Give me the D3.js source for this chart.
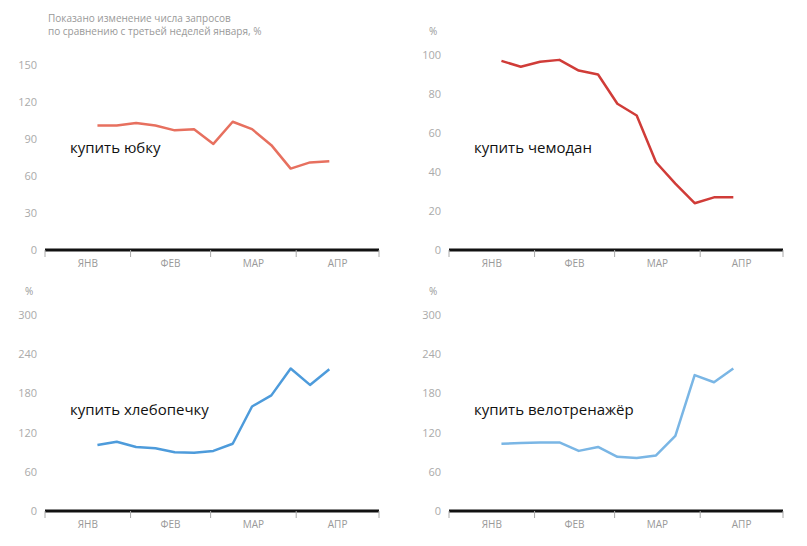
<!DOCTYPE html><html><head><meta charset="utf-8"><script src="https://cdn.jsdelivr.net/npm/d3@7"></script>
<style>body{margin:0;background:#fff}text{font-family:"Open Sans",sans-serif}</style></head><body><svg id="c" width="807" height="546"></svg>
<script>
const weeks = d3.range(13).map(k => new Date(2020, 0, 20 + 7 * k));
const monthTicks = [new Date(2020,0,1),new Date(2020,1,1),new Date(2020,2,1),new Date(2020,3,1),new Date(2020,4,1)];
const monthLabels = ["ЯНВ","ФЕВ","МАР","АПР"];
const skirt = [101,101,103,101,97,98,86,104,98,85,66,71,72];
const suitcase = [97,94,96.5,97.5,92,90,75,69,45,34,24,27,27];
const breadMaker = [101,106,98,96,90,89,92,103,160,177,218,193,217];
const bike = [103,104,105,105,92,98,83,81,85,115,208,197,218];
const panels = [
 {name:"купить юбку", data:skirt, ticks:[0,30,60,90,120,150], max:150, color:"#e7705f", x0:45, y0:250, yTop:65, unit:null},
 {name:"купить чемодан", data:suitcase, ticks:[0,20,40,60,80,100], max:100, color:"#d03c38", x0:449, y0:250, yTop:55, unit:"%"},
 {name:"купить хлебопечку", data:breadMaker, ticks:[0,60,120,180,240,300], max:300, color:"#4d9bdb", x0:45, y0:511, yTop:315, unit:"%"},
 {name:"купить велотренажёр", data:bike, ticks:[0,60,120,180,240,300], max:300, color:"#7ab6e5", x0:449, y0:511, yTop:315, unit:"%"}
];
const svg = d3.select("#c");
svg.append("text").attr("x",48).attr("y",22).attr("font-size",10).attr("fill","#999").text("Показано изменение числа запросов");
svg.append("text").attr("x",48).attr("y",35).attr("font-size",10).attr("fill","#999").text("по сравнению с третьей неделей января, %");
panels.forEach(p=>{
 const g = svg.append("g");
 const x = d3.scaleTime().domain([monthTicks[0],monthTicks[4]]).range([p.x0,p.x0+334]);
 const y = d3.scaleLinear().domain([0,p.max]).range([p.y0,p.yTop]);
 p.ticks.forEach(t=>g.append("text").attr("x",p.x0-8).attr("y",y(t)+4).attr("text-anchor","end").attr("font-size",11).attr("fill","#aaa").text(t));
 if(p.unit) g.append("text").attr("x",p.x0-20).attr("y",y(p.max)-20).attr("font-size",10).attr("fill","#999").text(p.unit);
 g.append("line").attr("x1",x.range()[0]).attr("x2",x.range()[1]).attr("y1",p.y0).attr("y2",p.y0).attr("stroke","#111").attr("stroke-width",3);
 monthTicks.forEach(m=>g.append("line").attr("x1",x(m)).attr("x2",x(m)).attr("y1",p.y0).attr("y2",p.y0+7).attr("stroke","#aaa"));
 monthLabels.forEach((l,i)=>g.append("text").attr("x",(x(monthTicks[i])+x(monthTicks[i+1]))/2).attr("y",p.y0+17).attr("text-anchor","middle").attr("font-size",10).attr("fill","#999").text(l));
 g.append("path").datum(p.data).attr("fill","none").attr("stroke",p.color).attr("stroke-width",2.5).attr("stroke-linejoin","round")
  .attr("d",d3.line().x((d,i)=>x(weeks[i])).y(d=>y(d)));
 g.append("text").attr("x",p.x0+25).attr("y",p.x0===45&&p.y0===250?153:(p.y0===250?153:415)).attr("font-size",15).attr("fill","#111").text(p.name);
});
</script></body></html>
